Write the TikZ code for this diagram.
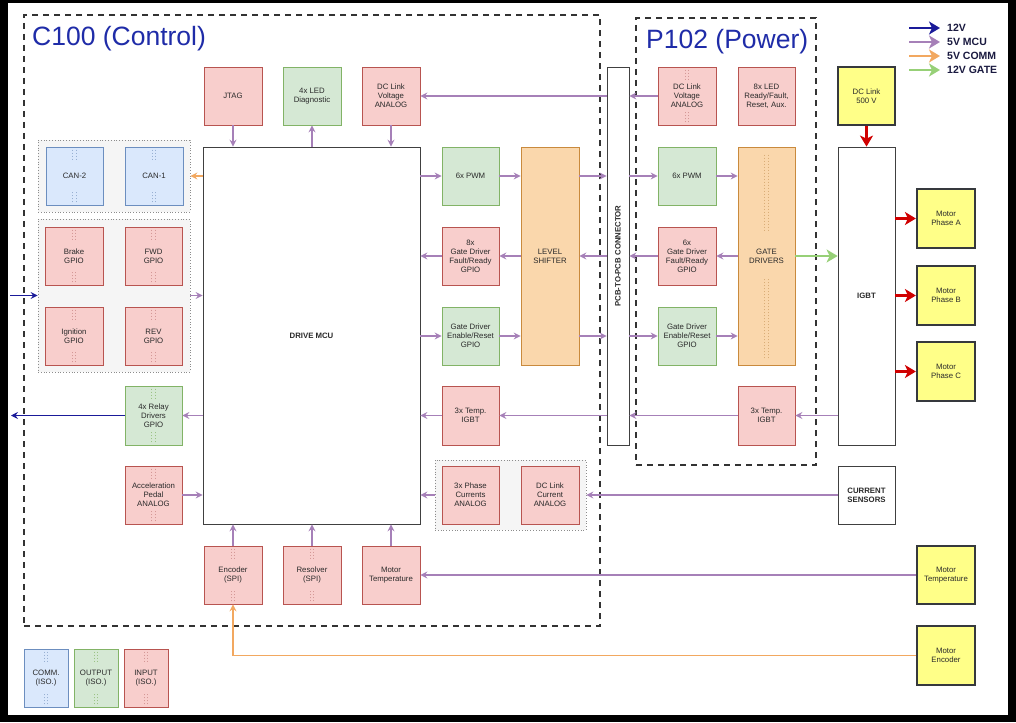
\documentclass[tikz,border=0pt]{standalone}
\usepackage{fontspec}
\setmainfont{Liberation Sans}
\usepackage{graphicx}
\usetikzlibrary{arrows.meta,calc}
\definecolor{pinkF}{HTML}{F8CECC}\definecolor{pinkD}{HTML}{B85450}
\definecolor{greenF}{HTML}{D5E8D4}\definecolor{greenD}{HTML}{82B366}
\definecolor{blueF}{HTML}{DAE8FC}\definecolor{blueD}{HTML}{6C8EBF}
\definecolor{orgF}{HTML}{FAD7AC}\definecolor{orgD}{HTML}{C98A3D}
\definecolor{yelF}{HTML}{FFFF88}\definecolor{yelD}{HTML}{36393D}
\definecolor{mcuC}{HTML}{A680B8}
\definecolor{commC}{HTML}{F2A860}
\definecolor{v12C}{HTML}{1A1A99}
\definecolor{gateC}{HTML}{97D077}
\definecolor{redC}{HTML}{D00000}
\definecolor{titleC}{HTML}{1F2CA8}
\definecolor{txtC}{HTML}{2A2A2A}
\definecolor{grpF}{HTML}{F5F5F5}
\definecolor{legC}{HTML}{1A1A40}
\newcommand\fs{\fontsize{7.8}{9}\selectfont}
\newcommand\mybox[7]{\node[#2, minimum width=#5pt-#3pt, minimum height=#6pt-#4pt] (#1) at ({(#3+#5)/2},{(#4+#6)/2}) {#7};}
\newcommand\isomk[2]{\draw[isoline, #2] ($(#1.north)+(-1.8,3)$) -- ++(0,12) ($(#1.north)+(1.8,3)$) -- ++(0,12) ($(#1.south)+(-1.8,-3)$) -- ++(0,-12) ($(#1.south)+(1.8,-3)$) -- ++(0,-12);}
\tikzset{
  blk/.style={draw, line width=0.8pt, inner sep=1pt, align=center, font=\fs, text=txtC},
  pinkb/.style={blk, fill=pinkF, draw=pinkD},
  greenb/.style={blk, fill=greenF, draw=greenD},
  blueb/.style={blk, fill=blueF, draw=blueD},
  orgb/.style={blk, fill=orgF, draw=orgD},
  yelb/.style={blk, fill=yelF, draw=yelD, line width=2.2pt},
  whiteb/.style={blk, fill=white, draw=black!75},
  grpbox/.style={draw=black!45, fill=grpF, line width=0.8pt, dotted},
  dashbox/.style={draw=black!80, line width=2pt, dash pattern=on 6pt off 5pt},
  isoline/.style={line width=0.8pt, dash pattern=on 1.5pt off 1.5pt},
  mcu/.style={draw=mcuC, line width=1.1pt, -{Stealth[length=7pt,width=7pt,inset=2.5pt]}},
  comm/.style={draw=commC, line width=1.1pt, -{Stealth[length=7pt,width=7pt,inset=2.5pt]}},
  vtw/.style={draw=v12C, line width=1.4pt, -{Stealth[length=7pt,width=7pt,inset=2.5pt]}},
  pow/.style={draw=redC, line width=2.8pt, -{Stealth[length=11pt,width=13pt,inset=3pt]}},
  gatearr/.style={draw=gateC, line width=2.8pt, -{Stealth[length=11pt,width=13pt,inset=3pt]}},
  legarr/.style={line width=2.8pt, -{Stealth[length=11pt,width=13pt,inset=3pt]}},
  legtxt/.style={anchor=west, inner sep=0pt, font=\fontsize{10.5}{12}\selectfont\bfseries, text=legC}
}
\begin{document}
\begin{tikzpicture}[x=1pt,y=-1pt]
\useasboundingbox (0,0) rectangle (1016,722);
\fill[black] (0,0) rectangle (1016,722);
\fill[white] (8,3) rectangle (1008,715);

% dashed board outlines
\mybox{c100}{dashbox}{24}{15}{600}{626}{}
\mybox{p102}{dashbox}{636}{18}{816}{465}{}
\node[anchor=base west, inner sep=0pt, font=\fontsize{26.5}{30}\selectfont, text=titleC] (tc) at (32,45.5) {C100 (Control)};
\node[anchor=base west, inner sep=0pt, font=\fontsize{26.5}{30}\selectfont, text=titleC] (tp) at (646,49) {P102 (Power)};

% group boxes
\mybox{cang}{grpbox}{38}{140}{190}{212}{}
\mybox{gpiog}{grpbox}{38}{219}{190}{372}{}
\mybox{phg}{grpbox}{435}{460}{586}{530}{}

% C100 blocks
\mybox{jtag}{pinkb}{204}{67}{262}{125}{JTAG}
\mybox{led}{greenb}{283}{67}{341}{125}{4x LED\\Diagnostic}
\mybox{dcv}{pinkb}{362}{67}{420}{125}{DC Link\\Voltage\\ANALOG}
\mybox{mcu}{whiteb}{203}{147}{420}{524}{\bfseries DRIVE MCU}
\mybox{can2}{blueb}{46}{147}{103}{205}{CAN-2}
\mybox{can1}{blueb}{125}{147}{183}{205}{CAN-1}
\mybox{brake}{pinkb}{45}{227}{103}{285}{Brake\\GPIO}
\mybox{fwd}{pinkb}{125}{227}{182}{285}{FWD\\GPIO}
\mybox{ign}{pinkb}{45}{307}{103}{365}{Ignition\\GPIO}
\mybox{rev}{pinkb}{125}{307}{182}{365}{REV\\GPIO}
\mybox{relay}{greenb}{125}{386}{182}{445}{4x Relay\\Drivers\\GPIO}
\mybox{accel}{pinkb}{125}{466}{182}{524}{Acceleration\\Pedal\\ANALOG}
\mybox{enc}{pinkb}{204}{546}{262}{604}{Encoder\\(SPI)}
\mybox{res}{pinkb}{283}{546}{341}{604}{Resolver\\(SPI)}
\mybox{mtemp}{pinkb}{362}{546}{420}{604}{Motor\\Temperature}
\mybox{phc}{pinkb}{442}{466}{499}{524}{3x Phase\\Currents\\ANALOG}
\mybox{dcc}{pinkb}{521}{466}{579}{524}{DC Link\\Current\\ANALOG}
\mybox{pwm1}{greenb}{442}{147}{499}{205}{6x PWM}
\mybox{flt1}{pinkb}{442}{227}{499}{285}{8x\\Gate Driver\\Fault/Ready\\GPIO}
\mybox{en1}{greenb}{442}{307}{499}{365}{Gate Driver\\Enable/Reset\\GPIO}
\mybox{tmp1}{pinkb}{442}{386}{499}{445}{3x Temp.\\IGBT}
\mybox{lsh}{orgb}{521}{147}{579}{365}{LEVEL\\SHIFTER}
\mybox{conn}{whiteb}{607}{67}{629}{445}{\bfseries\rotatebox{90}{PCB-TO-PCB CONNECTOR}}

% P102 blocks
\mybox{dcv2}{pinkb}{658}{67}{716}{125}{DC Link\\Voltage\\ANALOG}
\mybox{led2}{pinkb}{738}{67}{795}{125}{8x LED\\Ready/Fault,\\Reset, Aux.}
\mybox{pwm2}{greenb}{658}{147}{716}{205}{6x PWM}
\mybox{flt2}{pinkb}{658}{227}{716}{285}{6x\\Gate Driver\\Fault/Ready\\GPIO}
\mybox{en2}{greenb}{658}{307}{716}{365}{Gate Driver\\Enable/Reset\\GPIO}
\mybox{gd}{orgb}{738}{147}{795}{365}{GATE\\DRIVERS}
\mybox{tmp2}{pinkb}{738}{386}{795}{445}{3x Temp.\\IGBT}

% external
\mybox{dcl}{yelb}{838}{67}{895}{125}{DC Link\\500 V}
\mybox{igbt}{whiteb}{838}{147}{895}{445}{\bfseries IGBT}
\mybox{pha}{yelb}{917}{189}{975}{248}{Motor\\Phase A}
\mybox{phb}{yelb}{917}{266}{975}{325}{Motor\\Phase B}
\mybox{phcc}{yelb}{917}{342}{975}{401}{Motor\\Phase C}
\mybox{cs}{whiteb}{838}{466}{895}{524}{\bfseries CURRENT\\\bfseries SENSORS}
\mybox{mtx}{yelb}{917}{546}{975}{604}{Motor\\Temperature}
\mybox{menc}{yelb}{917}{626}{975}{685}{Motor\\Encoder}

% legend boxes
\mybox{lgc}{blueb}{24}{649}{68}{707}{COMM.\\(ISO.)}
\mybox{lgo}{greenb}{74}{649}{118}{707}{OUTPUT\\(ISO.)}
\mybox{lgi}{pinkb}{124}{649}{168}{707}{INPUT\\(ISO.)}

% isolation markers
\isomk{can2}{blueD!70}\isomk{can1}{blueD!70}
\isomk{brake}{pinkD!60}\isomk{fwd}{pinkD!60}\isomk{ign}{pinkD!60}\isomk{rev}{pinkD!60}
\isomk{relay}{greenD!80}\isomk{accel}{pinkD!60}
\isomk{enc}{pinkD!60}\isomk{res}{pinkD!60}\isomk{dcv2}{pinkD!60}
\isomk{lgc}{blueD!70}\isomk{lgo}{greenD!80}\isomk{lgi}{pinkD!60}
\draw[isoline, orgD!70] ($(gd.north)+(-1.8,8)$) -- ++(0,78) ($(gd.north)+(1.8,8)$) -- ++(0,78)
  ($(gd.south)+(-1.8,-7)$) -- ++(0,-81) ($(gd.south)+(1.8,-7)$) -- ++(0,-81);

% MCU top/bottom connections
\draw[mcu] (jtag.south) -- (jtag.south |- mcu.north);
\draw[mcu] (led.south |- mcu.north) -- (led.south);
\draw[mcu] (dcv.south) -- (dcv.south |- mcu.north);
\draw[mcu] (enc.north) -- (enc.north |- mcu.south);
\draw[mcu] (res.north) -- (res.north |- mcu.south);
\draw[mcu] (mtemp.north) -- (mtemp.north |- mcu.south);

% left side
\draw[comm] (mcu.west |- cang) -- (cang.east);
\draw[mcu] (gpiog.east) -- (gpiog.east -| mcu.west);
\coordinate (vin) at (10,295.5);
\draw[vtw] (vin) -- (gpiog.west);
\draw[mcu] (mcu.west |- relay) -- (relay.east);
\coordinate (vout) at (11,415.5);
\draw[vtw] (relay.west) -- (vout);
\draw[mcu] (accel.east) -- (accel.east -| mcu.west);

% right side chains
\draw[mcu] (dcv2.west) -- (dcv2.west -| conn.east);
\draw[mcu] (conn.west |- dcv) -- (dcv.east);
\draw[mcu] (mcu.east |- pwm1) -- (pwm1.west);
\draw[mcu] (pwm1.east) -- (pwm1.east -| lsh.west);
\draw[mcu] (lsh.east |- pwm1) -- (pwm1 -| conn.west);
\draw[mcu] (conn.east |- pwm2) -- (pwm2.west);
\draw[mcu] (pwm2.east) -- (pwm2.east -| gd.west);
\draw[mcu] (gd.west |- flt2) -- (flt2.east);
\draw[mcu] (flt2.west) -- (flt2.west -| conn.east);
\draw[mcu] (conn.west |- flt1) -- (flt1 -| lsh.east);
\draw[mcu] (lsh.west |- flt1) -- (flt1.east);
\draw[mcu] (flt1.west) -- (flt1.west -| mcu.east);
\draw[mcu] (mcu.east |- en1) -- (en1.west);
\draw[mcu] (en1.east) -- (en1.east -| lsh.west);
\draw[mcu] (lsh.east |- en1) -- (en1 -| conn.west);
\draw[mcu] (conn.east |- en2) -- (en2.west);
\draw[mcu] (en2.east) -- (en2.east -| gd.west);
\draw[mcu] (igbt.west |- tmp2) -- (tmp2.east);
\draw[mcu] (tmp2.west) -- (tmp2.west -| conn.east);
\draw[mcu] (conn.west |- tmp1) -- (tmp1.east);
\draw[mcu] (tmp1.west) -- (tmp1.west -| mcu.east);
\draw[mcu] (phg.west) -- (phg.west -| mcu.east);
\draw[mcu] (cs.west) -- (cs.west -| phg.east);
\draw[mcu] (mtx.west) -- (mtx.west -| mtemp.east);
\draw[comm] (menc.west) -| (enc.south);

% power
\draw[gatearr] (gd.east) -- (gd.east -| igbt.west);
\draw[pow] (dcl.south) -- (dcl.south |- igbt.north);
\draw[pow] (igbt.east |- pha) -- (pha.west);
\draw[pow] (igbt.east |- phb) -- (phb.west);
\draw[pow] (igbt.east |- phcc) -- (phcc.west);

% legend
\coordinate (la1) at (909,28); \coordinate (lb1) at (940,28);
\coordinate (la2) at (909,42); \coordinate (lb2) at (940,42);
\coordinate (la3) at (909,56); \coordinate (lb3) at (940,56);
\coordinate (la4) at (909,70); \coordinate (lb4) at (940,70);
\draw[legarr, draw=v12C] (la1) -- (lb1);
\draw[legarr, draw=mcuC] (la2) -- (lb2);
\draw[legarr, draw=commC] (la3) -- (lb3);
\draw[legarr, draw=gateC] (la4) -- (lb4);
\node[legtxt] (lt1) at (947,28) {12V};
\node[legtxt] (lt2) at (947,42) {5V MCU};
\node[legtxt] (lt3) at (947,56) {5V COMM};
\node[legtxt] (lt4) at (947,70) {12V GATE};
\end{tikzpicture}
\end{document}
